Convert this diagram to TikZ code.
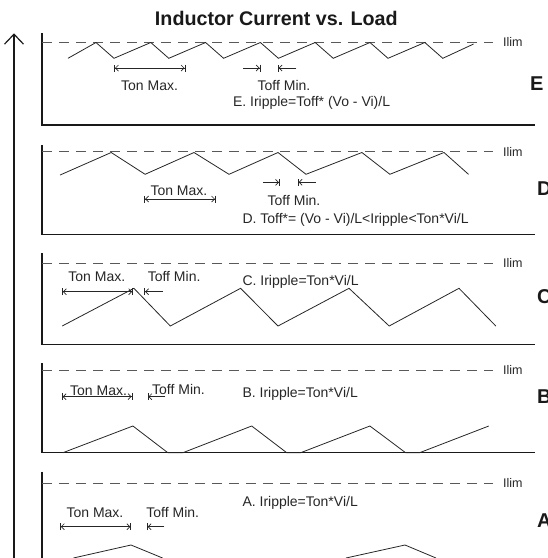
\documentclass[tikz,border=0pt]{standalone}
\usepackage{fontspec}
\setmainfont{Liberation Sans}
\usetikzlibrary{arrows.meta}
\begin{document}
\begin{tikzpicture}[x=1pt,y=-1pt,
  frame/.style={line width=1.2pt, black!90},
  lim/.style={line width=0.9pt, black!65, dash pattern=on 10pt off 7pt},
  wave/.style={line width=0.8pt, black!85, line join=miter},
  lbl/.style={font=\fontsize{14}{16}\selectfont, inner sep=0pt, anchor=base west, text=black!85},
  limlbl/.style={font=\fontsize{12.5}{14}\selectfont, inner sep=0pt, anchor=base west, text=black!85},
  tag/.style={font=\bfseries\fontsize{20}{22}\selectfont, inner sep=0pt, anchor=base west, text=black!90},
  dimline/.style={line width=0.7pt, black!85, {Bar[width=7pt]Straight Barb[length=3pt,width=6pt]}-{Straight Barb[length=3pt,width=6pt]Bar[width=7pt]}},
  stopper/.style={line width=0.7pt, black!85, -{Straight Barb[length=3pt,width=6pt]Bar[width=7pt]}},
]
\path[use as bounding box] (0,0) rectangle (548,558);
\clip (0,0) rectangle (548,558);

% title
\node[font=\bfseries\fontsize{19.7}{22}\selectfont, anchor=base, inner sep=0pt, text=black!90] (title) at (276.3,25.7) {Inductor Current vs. Load};

% load axis
\coordinate (axisbot) at (14,560);
\coordinate (axistop) at (14,33.3);
\draw[line width=1.2pt, black!90, -{Straight Barb[length=10pt,width=19pt,line width=1.2pt]}] (axisbot) -- (axistop);

% ===== Panel E =====
\draw[frame] (42,33.3) -- (42,125) -- (535,125);
\draw[lim] (42,42.3) -- (493,42.3);
\node[limlbl] (ilimE) at (503,46.6) {Ilim};
\node[tag] (tagE) at (530,90) {E};
\draw[wave] (68,58.3) -- (96,42.5) -- (114,58.3) -- (150.8,42.5) -- (168.8,58.3) -- (205.6,42.5) -- (223.6,58.3) -- (260.4,42.5) -- (278.4,58.3) -- (315.2,42.5) -- (333.2,58.3) -- (370,42.5) -- (388,58.3) -- (424.8,42.5) -- (442.8,58.3) -- (473.6,44);
\coordinate (eTonA) at (114.3,68);
\coordinate (eTonB) at (185.2,68);
\draw[dimline] (eTonA) -- (eTonB);
\coordinate (eOffA) at (243,68);
\coordinate (eOffB) at (260.4,68);
\coordinate (eOffC) at (296.4,68);
\coordinate (eOffD) at (278,68);
\draw[stopper] (eOffA) -- (eOffB);
\draw[stopper] (eOffC) -- (eOffD);
\node[lbl] (eTon) at (121,90) {Ton Max.};
\node[lbl] (eToff) at (257.5,90) {Toff Min.};
\node[lbl] (eForm) at (232.8,106) {E. Iripple=Toff* (Vo - Vi)/L};

% ===== Panel D =====
\draw[frame] (42,145) -- (42,234.3) -- (535,234.3);
\draw[lim] (42,151.7) -- (493,151.7);
\node[limlbl] (ilimD) at (503,156) {Ilim};
\node[tag] (tagD) at (537,195.5) {D};
\draw[wave] (60.1,175) -- (111.2,152.5) -- (145.1,174.3) -- (194,152.5) -- (229,174.3) -- (278,152.5) -- (306,174.3) -- (361.9,152.5) -- (389.9,174.3) -- (444,152.5) -- (468.5,174.3);
\coordinate (dTonA) at (144.4,199);
\coordinate (dTonB) at (215.7,199);
\draw[dimline] (dTonA) -- (dTonB);
\coordinate (dOffA) at (263,182.3);
\coordinate (dOffB) at (279.7,182.3);
\coordinate (dOffC) at (315.7,182.3);
\coordinate (dOffD) at (297.9,182.3);
\draw[stopper] (dOffA) -- (dOffB);
\draw[stopper] (dOffC) -- (dOffD);
\node[lbl] (dTon) at (150.3,195) {Ton Max.};
\node[lbl] (dToff) at (267.5,205) {Toff Min.};
\node[lbl] (dForm) at (242.3,223.3) {D. Toff*= (Vo - Vi)/L<Iripple<Ton*Vi/L};

% ===== Panel C =====
\draw[frame] (42,253.3) -- (42,344.3) -- (535,344.3);
\draw[lim] (42,263.3) -- (493,263.3);
\node[limlbl] (ilimC) at (503,267.6) {Ilim};
\node[tag] (tagC) at (537,303.5) {C};
\draw[wave] (62.2,326) -- (133.9,288.3) -- (170.3,326) -- (240.6,288.3) -- (278,326) -- (349,288.3) -- (389.2,326) -- (459,288.3) -- (495.8,326);
\coordinate (cTonA) at (62.2,291.7);
\coordinate (cTonB) at (132.9,291.7);
\draw[dimline] (cTonA) -- (cTonB);
\coordinate (cOffC) at (162.6,291.7);
\coordinate (cOffD) at (144.4,291.7);
\draw[stopper] (cOffC) -- (cOffD);
\node[lbl] (cTon) at (68.2,281.7) {Ton Max.};
\node[lbl] (cToff) at (147.6,281.7) {Toff Min.};
\node[lbl] (cForm) at (242.3,285) {C. Iripple=Ton*Vi/L};

% ===== Panel B =====
\draw[frame] (42,363.3) -- (42,452.7) -- (535,452.7);
\draw[lim] (42,370) -- (493,370);
\node[limlbl] (ilimB) at (503,374.3) {Ilim};
\node[tag] (tagB) at (537,403.5) {B};
\draw[wave] (62.9,452.7) -- (132.9,426) -- (167.8,452.7) -- (182.9,452.7) -- (251.7,426) -- (286.7,452.7) -- (300.7,452.7) -- (369.9,426) -- (405.6,452.7) -- (419.6,452.7) -- (488.8,426);
\coordinate (bTonA) at (61.9,396.7);
\coordinate (bTonB) at (132.2,396.7);
\draw[dimline] (bTonA) -- (bTonB);
\coordinate (bOffC) at (165.4,396.7);
\coordinate (bOffD) at (147.6,396.7);
\draw[stopper] (bOffC) -- (bOffD);
\node[lbl] (bTon) at (70,395) {Ton Max.};
\node[lbl] (bToff) at (152,394.3) {Toff Min.};
\node[lbl] (bForm) at (242.3,397.7) {B. Iripple=Ton*Vi/L};

% ===== Panel A =====
\draw[frame] (42,471.7) -- (42,560);
\draw[lim] (42,483.3) -- (493,483.3);
\node[limlbl] (ilimA) at (503,487.6) {Ilim};
\node[tag] (tagA) at (537,527) {A};
\draw[wave] (73.4,558) -- (131,545) -- (162.6,558);
\draw[wave] (346,558) -- (405,545) -- (436,558);
\coordinate (aTonA) at (60.1,526.7);
\coordinate (aTonB) at (131.1,526.7);
\draw[dimline] (aTonA) -- (aTonB);
\coordinate (aOffC) at (164.3,526.7);
\coordinate (aOffD) at (146.9,526.7);
\draw[stopper] (aOffC) -- (aOffD);
\node[lbl] (aTon) at (66.4,517.3) {Ton Max.};
\node[lbl] (aToff) at (146.2,517.3) {Toff Min.};
\node[lbl] (aForm) at (242.3,506.7) {A. Iripple=Ton*Vi/L};
\end{tikzpicture}
\end{document}
